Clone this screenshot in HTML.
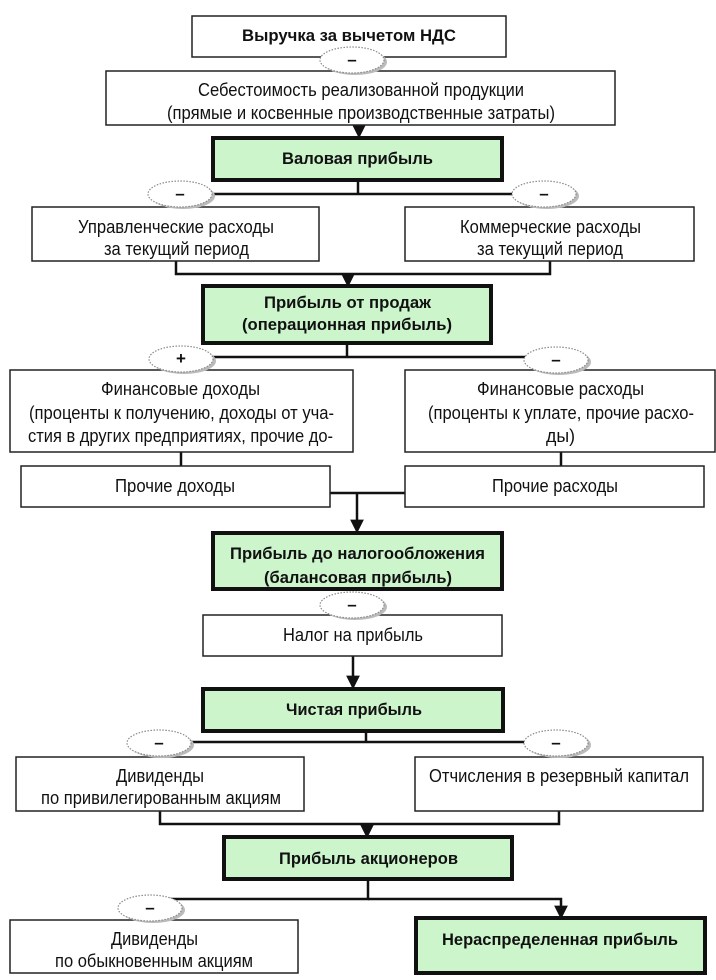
<!DOCTYPE html>
<html><head><meta charset="utf-8"><style>
html,body{margin:0;padding:0;background:#fff}
svg{display:block}
text{font-family:"Liberation Sans",sans-serif;font-size:18px;fill:#111}
.b{font-weight:bold;font-size:17px}
.w{fill:#fff;stroke:#222;stroke-width:1.5}
.g{fill:#ccf5cc;stroke:#111;stroke-width:4}
.l{stroke:#111;stroke-width:2.5;fill:none}
.e{fill:#fff;stroke:#888;stroke-width:1.2;stroke-dasharray:1.5 1.5}
.s{fill:#bbb}
</style></head><body>
<svg width="716" height="980" viewBox="0 0 716 980" xmlns="http://www.w3.org/2000/svg">
<defs><marker id="a" viewBox="0 0 10 10" refX="9" refY="5" markerWidth="5.5" markerHeight="5.5" orient="auto"><path d="M0,0L10,5L0,10z" fill="#111"/></marker></defs>
<line class="l" x1="359" y1="125" x2="359" y2="137" marker-end="url(#a)"/>
<polyline class="l" points="358,180 358,194"/>
<polyline class="l" points="181,194 544,194"/>
<polyline class="l" points="176,261 176,274 550,274 550,261"/>
<line class="l" x1="348" y1="274" x2="348" y2="286" marker-end="url(#a)"/>
<polyline class="l" points="347,343 347,357"/>
<polyline class="l" points="181,357 556,357"/>
<line class="l" x1="181" y1="452" x2="181" y2="466"/>
<line class="l" x1="561" y1="452" x2="561" y2="466"/>
<polyline class="l" points="330,493 405,493"/>
<line class="l" x1="357" y1="493" x2="357" y2="532" marker-end="url(#a)"/>
<line class="l" x1="353" y1="656" x2="353" y2="688" marker-end="url(#a)"/>
<polyline class="l" points="366,731 366,742"/>
<polyline class="l" points="160,742 556,742"/>
<polyline class="l" points="160,811 160,824 559,824 559,811"/>
<line class="l" x1="367" y1="824" x2="367" y2="837" marker-end="url(#a)"/>
<polyline class="l" points="368,879 368,899 150,899"/>
<polyline class="l" points="368,899 561,899 561,918" marker-end="url(#a)"/>
<rect class="w" x="192" y="16" width="314" height="41"/>
<rect class="w" x="106" y="71" width="509" height="54"/>
<rect class="g" x="213" y="138" width="289" height="42"/>
<rect class="w" x="32" y="207" width="287" height="54"/>
<rect class="w" x="405" y="207" width="289" height="54"/>
<rect class="g" x="203" y="286" width="288" height="57"/>
<rect class="w" x="10" y="370" width="343" height="82"/>
<rect class="w" x="405" y="370" width="310" height="82"/>
<rect class="w" x="21" y="466" width="309" height="41"/>
<rect class="w" x="405" y="466" width="299" height="41"/>
<rect class="g" x="213" y="533" width="289" height="56"/>
<rect class="w" x="203" y="615" width="299" height="41"/>
<rect class="g" x="203" y="689" width="300" height="42"/>
<rect class="w" x="16" y="757" width="288" height="54"/>
<rect class="w" x="415" y="757" width="288" height="54"/>
<rect class="g" x="224" y="837" width="288" height="42"/>
<rect class="w" x="10" y="920" width="288" height="53"/>
<rect class="g" x="416" y="918" width="289" height="55"/>
<g>
<ellipse class="s" cx="355" cy="62" rx="32" ry="13"/><ellipse class="e" cx="352" cy="60" rx="32" ry="13"/><text class="b" x="352" y="65" text-anchor="middle">–</text>
<ellipse class="s" cx="183" cy="196" rx="32" ry="13"/><ellipse class="e" cx="180" cy="194" rx="32" ry="13"/><text class="b" x="180" y="199" text-anchor="middle">–</text>
<ellipse class="s" cx="547" cy="196" rx="32" ry="13"/><ellipse class="e" cx="544" cy="194" rx="32" ry="13"/><text class="b" x="544" y="199" text-anchor="middle">–</text>
<ellipse class="s" cx="184" cy="361" rx="32" ry="13"/><ellipse class="e" cx="181" cy="359" rx="32" ry="13"/><text class="b" x="181" y="364" text-anchor="middle">+</text>
<ellipse class="s" cx="559" cy="362" rx="32" ry="13"/><ellipse class="e" cx="556" cy="360" rx="32" ry="13"/><text class="b" x="556" y="365" text-anchor="middle">–</text>
<ellipse class="s" cx="355" cy="607" rx="32" ry="13"/><ellipse class="e" cx="352" cy="605" rx="32" ry="13"/><text class="b" x="352" y="610" text-anchor="middle">–</text>
<ellipse class="s" cx="162" cy="745" rx="32" ry="13"/><ellipse class="e" cx="159" cy="743" rx="32" ry="13"/><text class="b" x="159" y="748" text-anchor="middle">–</text>
<ellipse class="s" cx="559" cy="745" rx="32" ry="13"/><ellipse class="e" cx="556" cy="743" rx="32" ry="13"/><text class="b" x="556" y="748" text-anchor="middle">–</text>
<ellipse class="s" cx="153" cy="910" rx="32" ry="13"/><ellipse class="e" cx="150" cy="908" rx="32" ry="13"/><text class="b" x="150" y="913" text-anchor="middle">–</text>
</g>
<g>
<text class="b" x="242" y="41" textLength="214" lengthAdjust="spacingAndGlyphs">Выручка за вычетом НДС</text>
<text x="198" y="96" textLength="326" lengthAdjust="spacingAndGlyphs">Себестоимость реализованной продукции</text>
<text x="167" y="119" textLength="388" lengthAdjust="spacingAndGlyphs">(прямые и косвенные производственные затраты)</text>
<text class="b" x="282" y="164" textLength="151" lengthAdjust="spacingAndGlyphs">Валовая прибыль</text>
<text x="78" y="233" textLength="196" lengthAdjust="spacingAndGlyphs">Управленческие расходы</text>
<text x="104" y="255" textLength="145" lengthAdjust="spacingAndGlyphs">за текущий период</text>
<text x="460" y="233" textLength="181" lengthAdjust="spacingAndGlyphs">Коммерческие расходы</text>
<text x="477" y="255" textLength="146" lengthAdjust="spacingAndGlyphs">за текущий период</text>
<text class="b" x="264" y="308" textLength="167" lengthAdjust="spacingAndGlyphs">Прибыль от продаж</text>
<text class="b" x="242" y="330" textLength="210" lengthAdjust="spacingAndGlyphs">(операционная прибыль)</text>
<text x="101" y="395" textLength="159" lengthAdjust="spacingAndGlyphs">Финансовые доходы</text>
<text x="29" y="419" textLength="305" lengthAdjust="spacingAndGlyphs">(проценты к получению, доходы от уча-</text>
<text x="28" y="442" textLength="305" lengthAdjust="spacingAndGlyphs">стия в других предприятиях, прочие до-</text>
<text x="477" y="395" textLength="167" lengthAdjust="spacingAndGlyphs">Финансовые расходы</text>
<text x="428" y="419" textLength="266" lengthAdjust="spacingAndGlyphs">(проценты к уплате, прочие расхо-</text>
<text x="546" y="442" textLength="29" lengthAdjust="spacingAndGlyphs">ды)</text>
<text x="115" y="492" textLength="120" lengthAdjust="spacingAndGlyphs">Прочие доходы</text>
<text x="492" y="492" textLength="126" lengthAdjust="spacingAndGlyphs">Прочие расходы</text>
<text class="b" x="230" y="559" textLength="255" lengthAdjust="spacingAndGlyphs">Прибыль до налогообложения</text>
<text class="b" x="264" y="583" textLength="188" lengthAdjust="spacingAndGlyphs">(балансовая прибыль)</text>
<text x="283" y="641" textLength="140" lengthAdjust="spacingAndGlyphs">Налог на прибыль</text>
<text class="b" x="286" y="715" textLength="136" lengthAdjust="spacingAndGlyphs">Чистая прибыль</text>
<text x="116" y="782" textLength="88" lengthAdjust="spacingAndGlyphs">Дивиденды</text>
<text x="41" y="804" textLength="240" lengthAdjust="spacingAndGlyphs">по привилегированным акциям</text>
<text x="429" y="782" textLength="260" lengthAdjust="spacingAndGlyphs">Отчисления в резервный капитал</text>
<text class="b" x="279" y="864" textLength="179" lengthAdjust="spacingAndGlyphs">Прибыль акционеров</text>
<text x="111" y="945" textLength="87" lengthAdjust="spacingAndGlyphs">Дивиденды</text>
<text x="55" y="967" textLength="198" lengthAdjust="spacingAndGlyphs">по обыкновенным акциям</text>
<text class="b" x="442" y="945" textLength="236" lengthAdjust="spacingAndGlyphs">Нераспределенная прибыль</text>
</g>
</svg>
</body></html>
